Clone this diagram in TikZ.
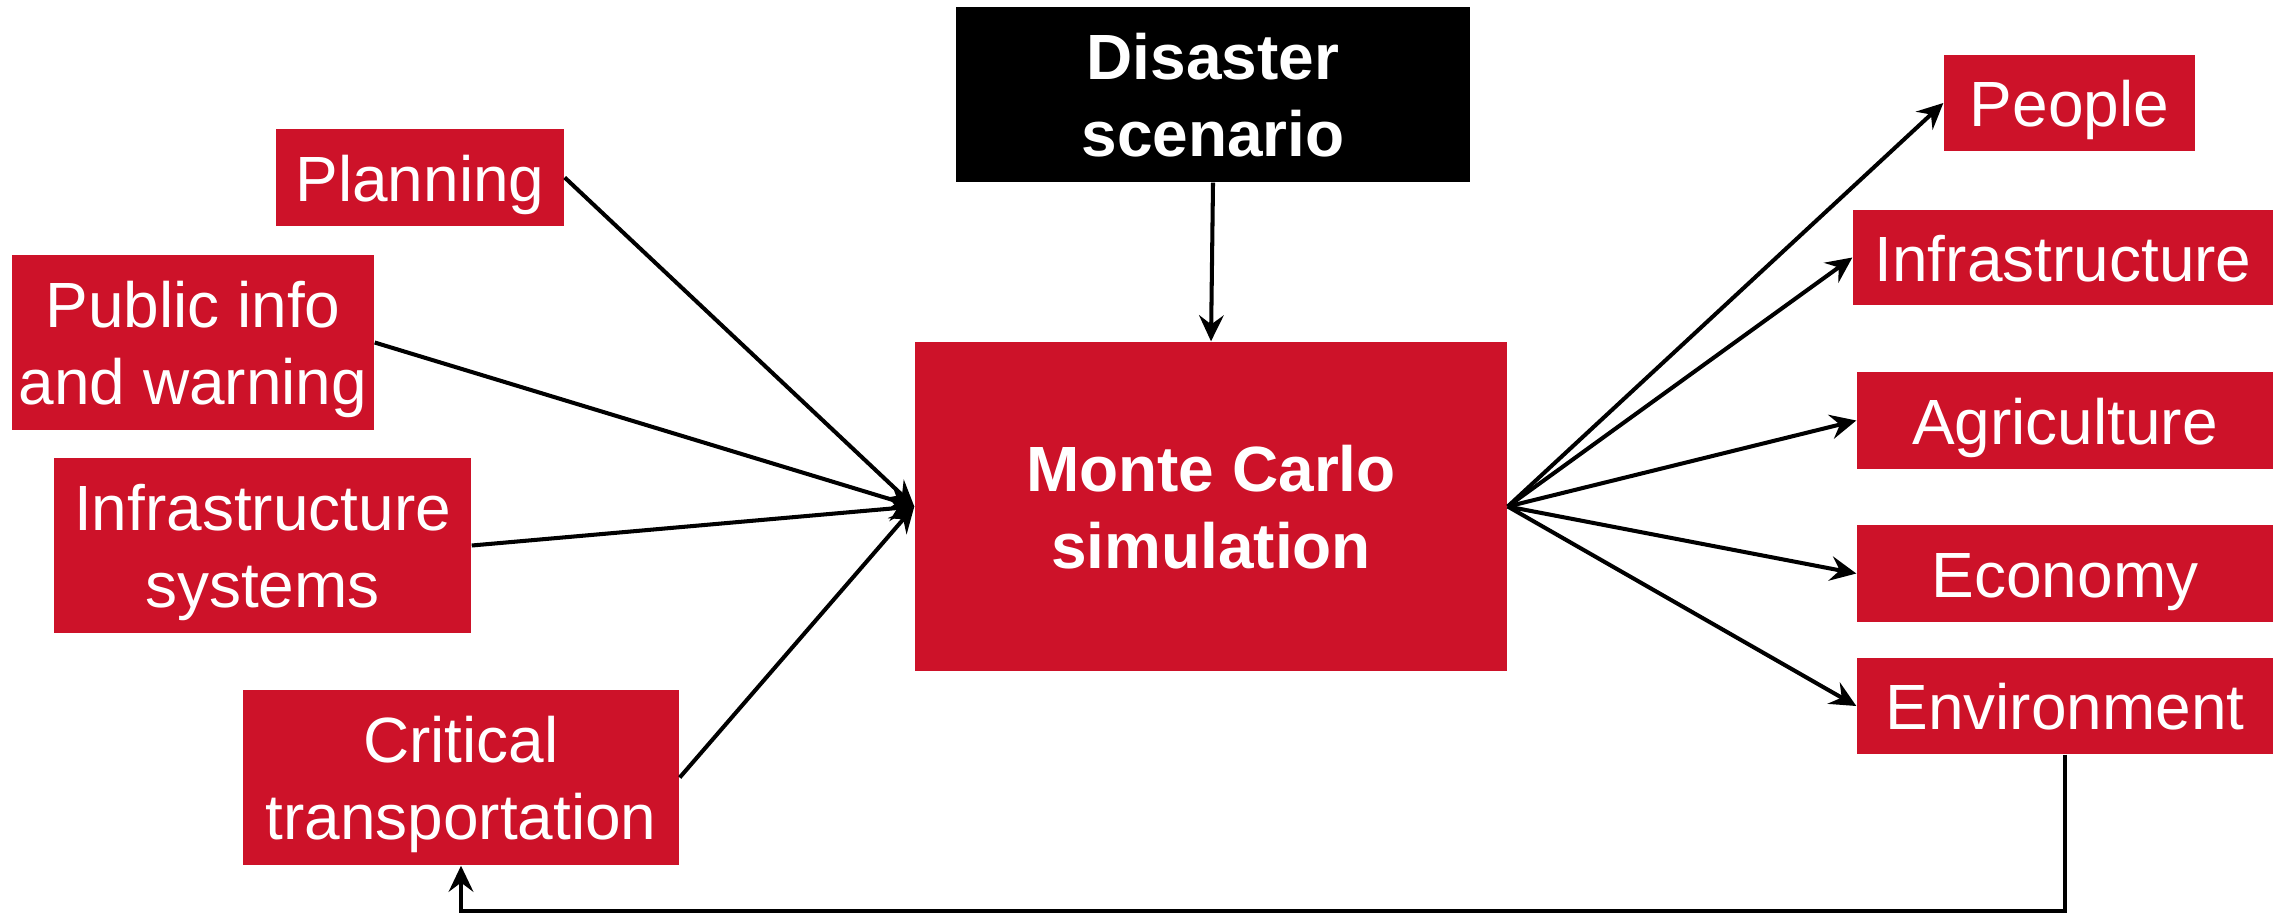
\documentclass[tikz,border=0pt]{standalone}
\usepackage{fontspec}
\setmainfont{Liberation Sans}
\usetikzlibrary{arrows.meta}
\definecolor{boxred}{RGB}{205,18,41}
% centred lines of a box label, baseline on the last line
\newcommand{\boxlines}[1]{\begin{tabular}[b]{@{}c@{}}#1\end{tabular}}
\begin{document}
\begin{tikzpicture}[x=1mm,y=-1mm,
  box/.style={fill=boxred, text=white, inner sep=0pt,
    font=\fontsize{18.2}{21.85}\selectfont, text height=13.4pt, text depth=0pt},
  twoline/.style={text height=35.25pt},
  darkbox/.style={box, twoline, fill=black, font=\fontsize{18.2}{21.85}\selectfont\bfseries},
  mainbox/.style={box, twoline, font=\fontsize{18.2}{21.85}\selectfont\bfseries},
  link/.style={line width=1.15pt, -{Stealth[length=7.4pt,width=7pt,inset=2.6pt]}}]
  \useasboundingbox (0,0) rectangle (227.4,91.5);
  % positions and sizes below are in units of 0.1 mm
  \begin{scope}[x=0.1mm,y=-0.1mm]
    \node[darkbox, minimum width=514*0.1mm, minimum height=175*0.1mm] (dis) at (1213,94.5) {\boxlines{Disaster\\scenario}};
    \node[mainbox, minimum width=592*0.1mm, minimum height=329*0.1mm] (mc) at (1211,506.5) {\boxlines{Monte Carlo\\simulation}};
    \node[box, minimum width=288*0.1mm, minimum height=97*0.1mm] (plan) at (420,177.5) {\boxlines{Planning}};
    \node[box, twoline, minimum width=362*0.1mm, minimum height=175*0.1mm] (pub) at (193,342.5) {\boxlines{Public info\\and warning}};
    \node[box, twoline, minimum width=417*0.1mm, minimum height=175*0.1mm] (isys) at (262.5,545.5) {\boxlines{Infrastructure\\systems}};
    \node[box, twoline, minimum width=436*0.1mm, minimum height=175*0.1mm] (crit) at (461,777.5) {\boxlines{Critical\\transportation}};
    \node[box, minimum width=251*0.1mm, minimum height=96*0.1mm] (ppl) at (2069.5,103) {\boxlines{People}};
    \node[box, minimum width=420*0.1mm, minimum height=95*0.1mm] (inf) at (2063,257.5) {\boxlines{Infrastructure}};
    \node[box, minimum width=416*0.1mm, minimum height=97*0.1mm] (agr) at (2065,420.5) {\boxlines{Agriculture}};
    \node[box, minimum width=416*0.1mm, minimum height=97*0.1mm] (eco) at (2065,573.5) {\boxlines{Economy}};
    \node[box, minimum width=416*0.1mm, minimum height=96*0.1mm] (env) at (2065,706) {\boxlines{Environment}};
    \coordinate (fb) at (2065,911);
  \end{scope}
  % inputs into the simulation
  \draw[link] (dis.south) -- (mc.north);
  \foreach \n in {plan,pub,isys,crit} \draw[link] (\n.east) -- (mc.west);
  % outputs of the simulation
  \foreach \n in {ppl,inf,agr,eco,env} \draw[link] (mc.east) -- (\n.west);
  % feedback loop
  \draw[link] (env.south) -- (fb) -| (crit.south);
\end{tikzpicture}
\end{document}
